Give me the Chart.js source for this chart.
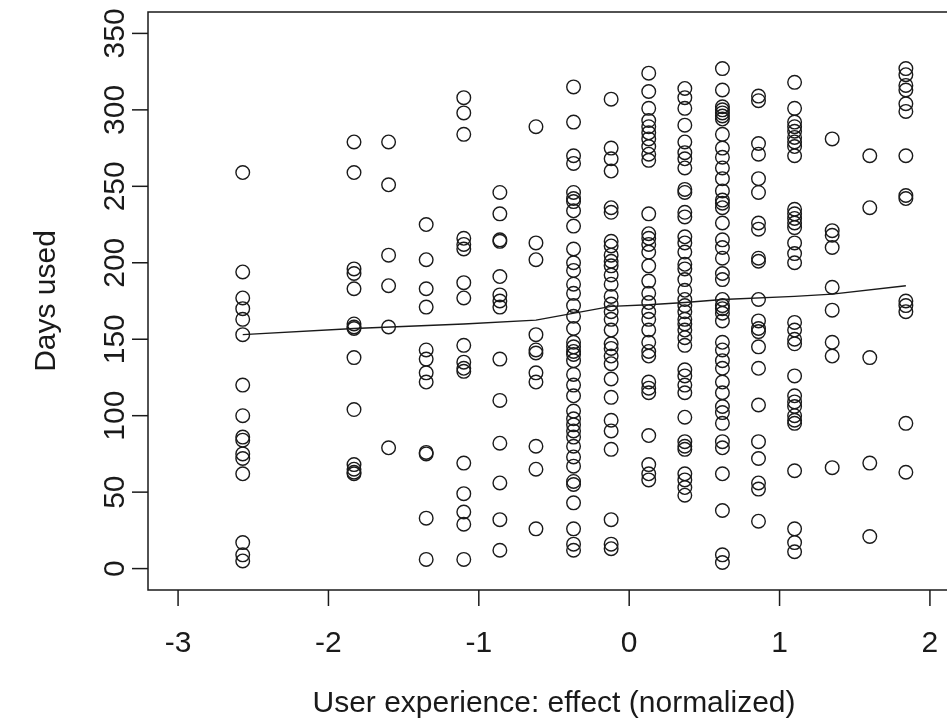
<!DOCTYPE html>
<html>
<head>
<meta charset="utf-8">
<script src="https://cdn.jsdelivr.net/npm/chart.js@4.4.1/dist/chart.umd.min.js"></script>
<style>
  html, body { margin: 0; padding: 0; background: #fff; overflow: hidden; }
  #wrap { width: 990px; height: 725px; }
</style>
</head>
<body>
<div id="wrap"><canvas id="chart" width="990" height="725"></canvas></div>
<script>
// effect levels (x) and the "days used" values found at each one
const effectLevels = [-2.57, -1.83, -1.6, -1.35, -1.1, -0.86, -0.62, -0.37, -0.12, 0.13, 0.37, 0.62, 0.86, 1.1, 1.35, 1.6, 1.84];

const daysA = [259, 194, 177, 170, 163, 153, 120, 100, 86, 84, 75, 72, 62, 17, 9, 5];
const daysB = [279, 259, 196, 193, 183, 160, 158, 157, 138, 104, 68, 65, 63, 62];
const daysC = [279, 251, 205, 185, 158, 79];
const daysD = [225, 202, 183, 171, 143, 137, 128, 122, 76, 75, 33, 6];
const daysE = [308, 298, 284, 216, 212, 209, 187, 177, 146, 135, 131, 129, 69, 49, 37, 29, 6];
const daysF = [246, 232, 215, 214, 191, 179, 175, 171, 137, 110, 82, 56, 32, 12];
const daysG = [289, 213, 202, 153, 143, 141, 128, 122, 80, 65, 26];
const daysH = [315, 292, 270, 265, 246, 242, 240, 234, 224, 209, 200, 195, 186, 180, 172, 165, 157, 148, 145, 142, 140, 136, 127, 120, 113, 103, 98, 94, 90, 86, 80, 73, 67, 57, 55, 43, 26, 16, 12];
const daysI = [307, 275, 268, 260, 236, 233, 214, 211, 205, 201, 198, 192, 186, 178, 173, 168, 163, 156, 147, 144, 139, 134, 124, 112, 97, 90, 78, 32, 16, 13];
const daysJ = [324, 312, 301, 293, 289, 285, 281, 276, 271, 267, 232, 219, 216, 212, 207, 198, 188, 180, 174, 168, 163, 156, 148, 142, 139, 122, 118, 115, 87, 68, 62, 58];
const daysK = [314, 308, 301, 290, 279, 272, 268, 262, 248, 246, 233, 230, 217, 213, 207, 199, 196, 189, 182, 176, 172, 168, 163, 160, 156, 151, 146, 130, 126, 120, 115, 99, 83, 80, 78, 62, 58, 53, 48];
const daysL = [327, 313, 302, 300, 298, 296, 294, 284, 275, 269, 262, 255, 247, 241, 239, 236, 226, 215, 210, 203, 193, 189, 176, 172, 170, 167, 162, 148, 143, 136, 131, 122, 115, 106, 102, 95, 83, 79, 62, 38, 9, 4];
const daysM = [309, 306, 278, 271, 255, 246, 226, 222, 203, 201, 176, 162, 157, 155, 145, 131, 107, 83, 72, 56, 52, 31];
const daysN = [318, 301, 292, 289, 286, 282, 279, 276, 270, 235, 232, 229, 226, 223, 213, 206, 200, 161, 156, 150, 147, 126, 113, 109, 106, 100, 97, 95, 64, 26, 17, 11];
const daysO = [281, 221, 218, 210, 184, 169, 148, 139, 66];
const daysP = [270, 236, 138, 69, 21];
const daysQ = [327, 323, 316, 313, 304, 299, 270, 244, 242, 175, 172, 168, 95, 63];

const daysByLevel = [daysA, daysB, daysC, daysD, daysE, daysF, daysG, daysH, daysI, daysJ, daysK, daysL, daysM, daysN, daysO, daysP, daysQ];

// smoothed (lowess) curve
const smoothX = [-2.57, -1.83, -1.1, -0.62, -0.12, 0.13, 0.37, 0.62, 1.1, 1.35, 1.84];
const smoothY = [153, 157, 160, 162.5, 171.5, 172.5, 174, 176, 178, 179.5, 185];

const xTicks = [-3, -2, -1, 0, 1, 2];
const yTicks = [0, 50, 100, 150, 200, 250, 300, 350];

const points = [];
effectLevels.forEach((x, i) => daysByLevel[i].forEach((y) => points.push({ x, y })));
const smooth = smoothX.map((x, i) => ({ x, y: smoothY[i] }));

const INK = '#1a1a1a';
const FONT = '"Liberation Sans", Arial, sans-serif';

// R-style axes: box, outward ticks, y labels parallel to the axis
const rAxes = {
  id: 'rAxes',
  afterDraw(chart) {
    const { ctx, chartArea: a, scales: { x, y } } = chart;
    ctx.save();
    ctx.strokeStyle = INK;
    ctx.lineWidth = 1.5;
    ctx.strokeRect(a.left, a.top, a.right - a.left, a.bottom - a.top);

    ctx.fillStyle = INK;
    ctx.font = '30px ' + FONT;
    ctx.textAlign = 'center';
    ctx.textBaseline = 'alphabetic';
    xTicks.forEach((v) => {
      const px = x.getPixelForValue(v);
      ctx.beginPath();
      ctx.moveTo(px, a.bottom);
      ctx.lineTo(px, a.bottom + 16);
      ctx.stroke();
      ctx.fillText(String(v), px, 652);
    });
    yTicks.forEach((v) => {
      const py = y.getPixelForValue(v);
      ctx.beginPath();
      ctx.moveTo(a.left, py);
      ctx.lineTo(a.left - 16, py);
      ctx.stroke();
      ctx.save();
      ctx.translate(124, py);
      ctx.rotate(-Math.PI / 2);
      ctx.fillText(String(v), 0, 0);
      ctx.restore();
    });

    ctx.fillText('User experience: effect (normalized)', (a.left + a.right) / 2, 712);
    ctx.save();
    ctx.translate(55, (a.top + a.bottom) / 2);
    ctx.rotate(-Math.PI / 2);
    ctx.fillText('Days used', 0, 0);
    ctx.restore();
    ctx.restore();
  }
};

new Chart(document.getElementById('chart'), {
  type: 'scatter',
  data: {
    datasets: [
      {
        label: 'Days used',
        data: points,
        pointStyle: 'circle',
        pointRadius: 6.8,
        pointBorderWidth: 1.4,
        pointBorderColor: INK,
        pointBackgroundColor: 'rgba(0,0,0,0)',
      },
      {
        label: 'Smooth',
        type: 'line',
        data: smooth,
        borderColor: INK,
        borderWidth: 1.4,
        pointRadius: 0,
        fill: false,
        tension: 0,
      },
    ],
  },
  options: {
    responsive: false,
    animation: false,
    layout: { padding: { left: 148, top: 12, right: 30, bottom: 135 } },
    plugins: { legend: { display: false }, tooltip: { enabled: false } },
    scales: {
      x: { type: 'linear', min: -3.2, max: 2.2, display: false },
      y: { type: 'linear', min: -14, max: 364, display: false },
    },
  },
  plugins: [rAxes],
});
</script>
</body>
</html>
